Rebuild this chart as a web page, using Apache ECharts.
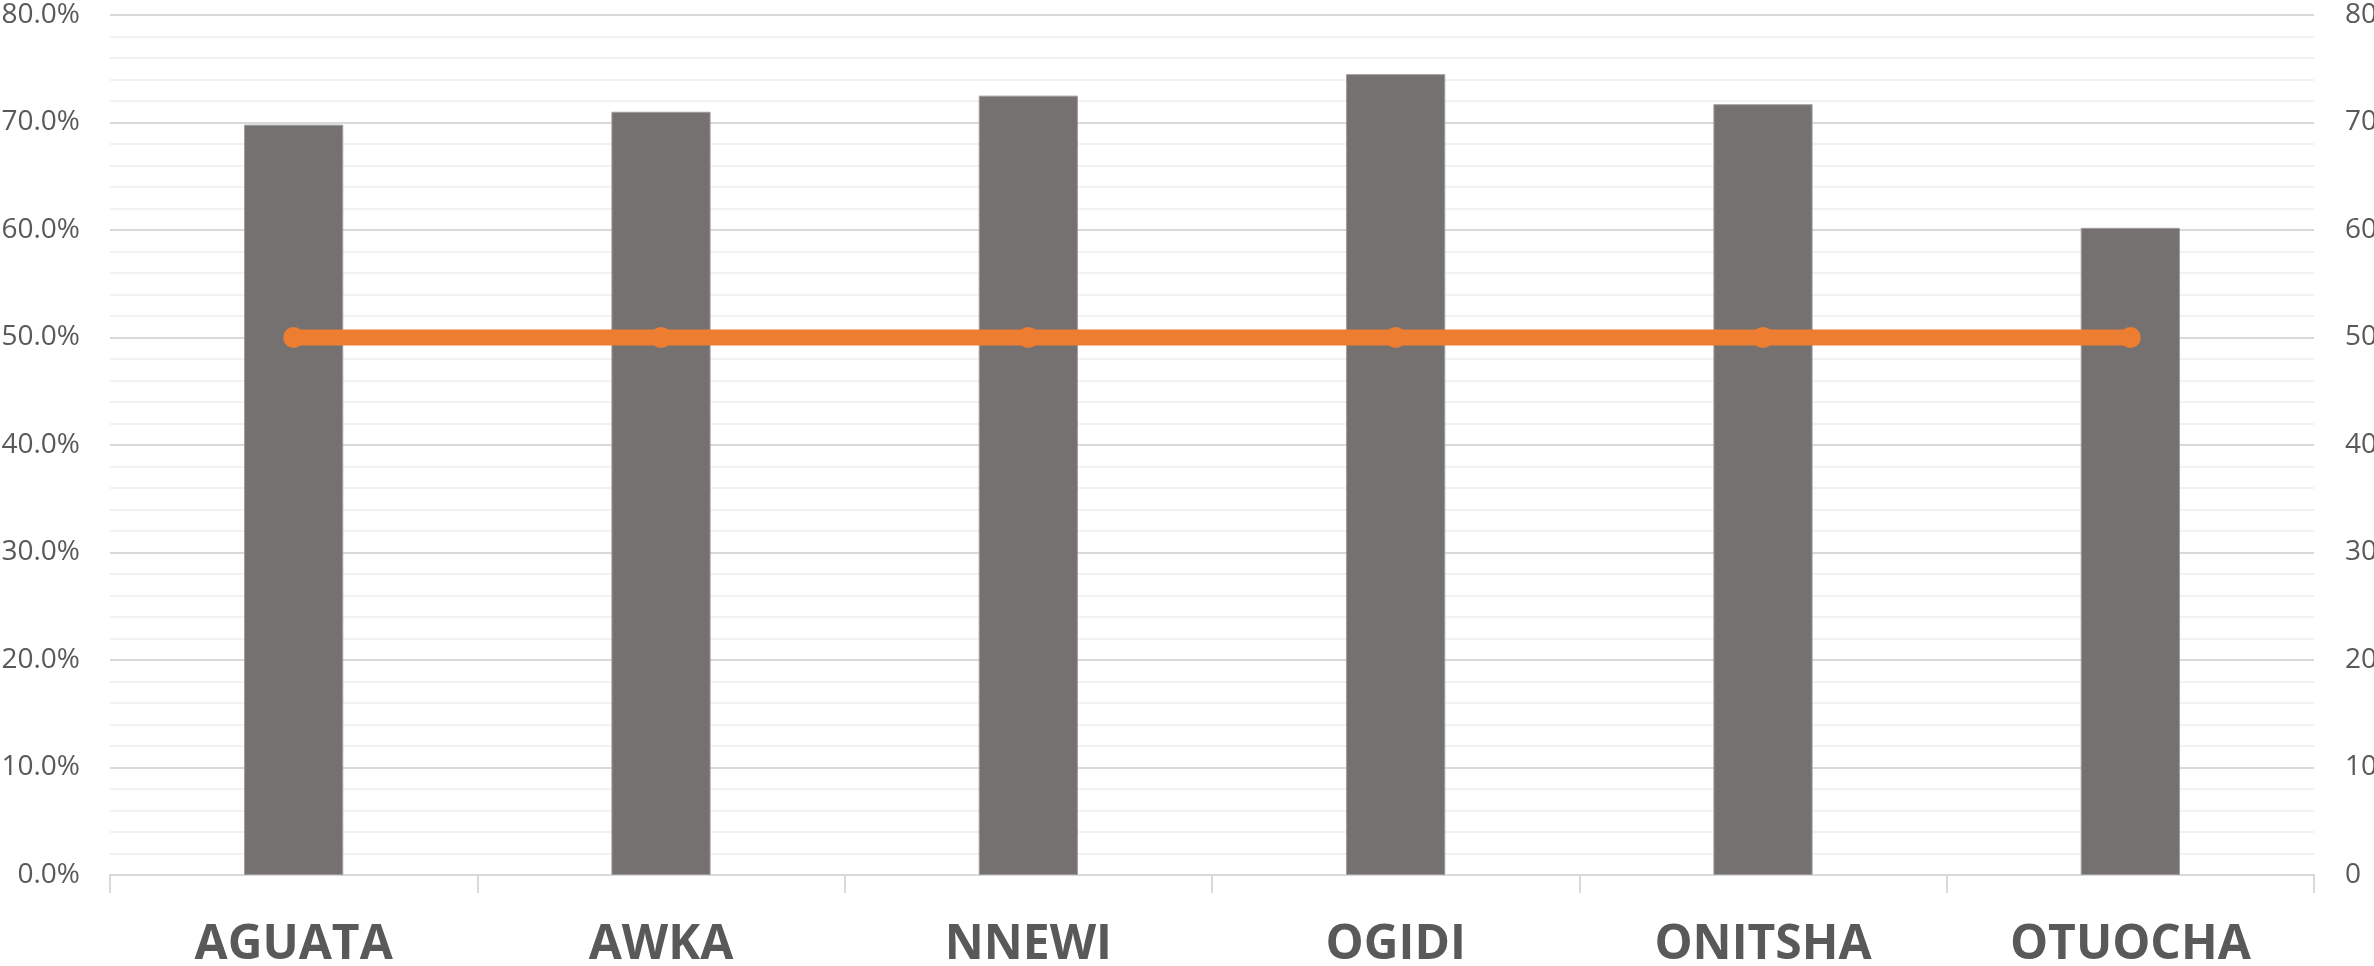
<!DOCTYPE html>
<html>
<head>
<meta charset="utf-8">
<title>Towns</title>
<script src="https://cdn.jsdelivr.net/npm/echarts@6/dist/echarts.min.js"></script>
<style>
  html, body { margin: 0; padding: 0; background: #ffffff; }
  #chart { width: 2374px; height: 966px; }
</style>
</head>
<body>
<div id="chart"></div>
<script>
// Towns along the category axis
const towns = ['AGUATA', 'AWKA', 'NNEWI', 'OGIDI', 'ONITSHA', 'OTUOCHA'];
// Share per town, in percent (left axis)
const shareValues = [69.8, 71.0, 72.5, 74.5, 71.7, 60.2];
// Benchmark level per town (right axis)
const benchmarkValues = [50, 50, 50, 50, 50, 50];
// Axis range shared by both value axes
const axisMin = 0;
const axisMax = 80;
const axisStep = 10;

const labelGrey = '#595959';
const chart = echarts.init(document.getElementById('chart'), null, { renderer: 'canvas' });

chart.setOption({
  backgroundColor: '#ffffff',
  animation: false,
  grid: {
    left: 110, right: 60, top: 15, bottom: 91,
    containLabel: false,
    outerBoundsMode: 'none'
  },
  xAxis: {
    type: 'category',
    data: towns,
    boundaryGap: true,
    axisLine: { show: true, lineStyle: { color: '#d9d9d9', width: 2 } },
    axisTick: { show: true, length: 18, lineStyle: { color: '#d9d9d9', width: 2 } },
    axisLabel: {
      color: labelGrey,
      fontFamily: 'Open Sans',
      fontWeight: 'bold',
      fontSize: 48,
      margin: 46
    },
    splitLine: { show: false }
  },
  yAxis: [
    {
      type: 'value',
      min: axisMin,
      max: axisMax,
      interval: axisStep,
      axisLine: { show: false },
      axisTick: { show: false },
      axisLabel: {
        color: labelGrey,
        fontFamily: 'Open Sans',
        fontSize: 28,
        margin: 30,
        formatter: v => v.toFixed(1) + '%'
      },
      splitLine: { show: true, lineStyle: { color: '#d9d9d9', width: 2 } },
      minorTick: { show: false, splitNumber: 5 },
      minorSplitLine: { show: true, lineStyle: { color: '#f2f2f2', width: 2 } }
    },
    {
      type: 'value',
      min: axisMin,
      max: axisMax,
      interval: axisStep,
      position: 'right',
      axisLine: { show: false },
      axisTick: { show: false },
      axisLabel: {
        color: labelGrey,
        fontFamily: 'Open Sans',
        fontSize: 28,
        margin: 31,
        align: 'left'
      },
      splitLine: { show: false }
    }
  ],
  series: [
    {
      name: 'Share',
      type: 'bar',
      data: shareValues,
      yAxisIndex: 0,
      barWidth: '27%',
      itemStyle: { color: '#767171', borderColor: '#9e9a9a', borderWidth: 1 },
      z: 2
    },
    {
      name: 'Benchmark',
      type: 'line',
      data: benchmarkValues,
      yAxisIndex: 1,
      symbol: 'circle',
      symbolSize: 21,
      lineStyle: { color: '#ED7D31', width: 16 },
      itemStyle: { color: '#ED7D31' },
      z: 3
    }
  ]
});
</script>
</body>
</html>
